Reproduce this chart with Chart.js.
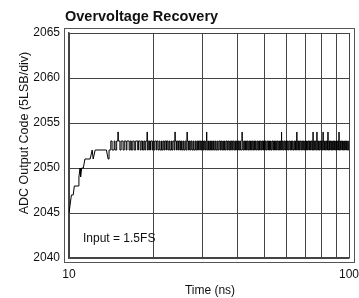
<!DOCTYPE html>
<html>
<head>
<meta charset="utf-8">
<script src="https://cdn.jsdelivr.net/npm/chart.js@4"></script>
<style>
  html, body { margin: 0; padding: 0; background: #fff; }
  #wrap { width: 359px; height: 298px; }
</style>
</head>
<body>
<div id="wrap"><canvas id="recovery" width="359" height="298"></canvas></div>
<script>
'use strict'

// recovery ramp after the overdrive: time (ns) and ADC code
const riseTimes = [
  10.0, 10.1, 10.2, 10.35, 10.45, 10.8, 10.85, 10.95, 11.0, 11.1,
  11.25, 11.4, 11.6, 11.9, 12.1, 12.2, 12.4, 13.0, 13.6, 13.8
];
const riseCodes = [
  2045, 2046, 2047, 2047, 2048, 2048, 2049, 2050, 2049, 2050,
  2050, 2051, 2051, 2051, 2052, 2051, 2052, 2052, 2052, 2051
];

// settled code toggling between 2052 and 2053: change points (ns) and the code from there on
const settledTimes = [
  13.8, 13.9, 14.1, 14.25, 14.5, 14.6, 14.8, 14.95, 15.0, 15.2,
  15.35, 15.6, 15.75, 16.0, 16.1, 16.4, 16.55, 16.7, 16.9, 17.1,
  17.3, 17.6, 17.7, 17.95, 18.1, 18.3, 18.5, 18.65, 18.8, 19.0,
  19.05, 19.2, 19.4, 19.55, 19.8, 19.9, 20.1, 20.25, 20.5, 20.6,
  20.8, 21.0, 21.15, 21.4, 21.5, 21.7, 21.9, 22.05, 22.3, 22.4,
  22.6, 22.8, 22.95, 23.2, 23.3, 23.5, 23.75, 23.9, 23.95, 24.2,
  24.35, 24.6, 24.75, 25.0, 25.2, 25.35, 25.6, 25.75, 26.0, 26.2,
  26.4, 26.45, 26.7, 26.9, 27.1, 27.3, 27.5, 27.75, 27.9, 28.2,
  28.35, 28.6, 28.8, 29.0, 29.3, 29.45, 29.7, 29.9, 30.2, 30.4,
  30.6, 30.8, 31.0, 31.05, 31.3, 31.5, 31.8, 32.0, 32.3, 32.5,
  32.8, 33.0, 33.3, 33.5, 33.8, 34.0, 34.3, 34.6, 34.8, 35.1,
  35.4, 35.6, 35.9, 36.1, 36.4, 36.7, 36.9, 37.2, 37.5, 37.7,
  38.0, 38.3, 38.5, 38.8, 39.1, 39.3, 39.6, 39.9, 40.2, 40.4,
  40.7, 41.0, 41.5, 41.55, 41.8, 42.1, 42.4, 42.7, 43.0, 43.3,
  43.6, 43.9, 44.2, 44.5, 44.8, 45.1, 45.4, 45.7, 46.0, 46.3,
  46.6, 47.0, 47.3, 47.6, 47.9, 48.2, 48.6, 48.9, 49.2, 49.5,
  49.9, 50.2, 50.5, 50.9, 51.3, 51.6, 52.0, 52.4, 52.7, 53.1,
  53.5, 53.8, 54.2, 54.6, 55.0, 55.3, 55.7, 56.1, 56.5, 56.9,
  57.4, 57.45, 57.8, 58.2, 58.6, 59.0, 59.4, 59.8, 60.2, 60.6,
  61.0, 61.5, 61.9, 62.3, 62.7, 63.1, 63.6, 64.0, 64.4, 64.8,
  65.1, 65.15, 65.6, 66.0, 66.5, 66.9, 67.4, 67.8, 68.3, 68.7,
  69.2, 69.6, 70.1, 70.5, 71.0, 71.4, 71.9, 72.3, 72.8, 73.2,
  73.7, 74.2, 74.4, 74.45, 74.9, 75.4, 75.8, 76.3, 76.8, 76.85,
  77.3, 77.8, 78.3, 78.8, 79.3, 79.8, 80.3, 80.8, 80.85, 81.3,
  81.8, 82.3, 82.8, 83.3, 83.8, 84.1, 84.15, 84.7, 85.2, 85.7,
  86.2, 86.7, 87.2, 87.7, 88.2, 88.7, 89.2, 89.7, 90.2, 90.7,
  91.2, 91.7, 92.1, 92.15, 92.7, 93.2, 93.7, 94.3, 94.8, 95.3,
  95.8, 96.3, 96.9, 97.4, 97.9, 98.4, 99.0, 99.5, 100.0
];
const settledCodes = [
  2051, 2052, 2053, 2052, 2053, 2052, 2053, 2054, 2053, 2052,
  2053, 2052, 2053, 2052, 2053, 2052, 2053, 2052, 2053, 2052,
  2053, 2052, 2053, 2052, 2053, 2052, 2053, 2052, 2053, 2054,
  2052, 2053, 2052, 2053, 2052, 2053, 2052, 2053, 2052, 2053,
  2052, 2053, 2052, 2053, 2052, 2053, 2052, 2053, 2052, 2053,
  2052, 2053, 2052, 2053, 2052, 2053, 2052, 2054, 2053, 2052,
  2053, 2052, 2053, 2052, 2053, 2052, 2053, 2052, 2053, 2052,
  2054, 2053, 2052, 2053, 2052, 2053, 2052, 2053, 2052, 2053,
  2052, 2053, 2052, 2053, 2052, 2053, 2052, 2053, 2052, 2053,
  2052, 2053, 2054, 2052, 2053, 2052, 2053, 2052, 2053, 2052,
  2053, 2052, 2053, 2052, 2053, 2052, 2053, 2052, 2053, 2052,
  2053, 2052, 2053, 2052, 2053, 2052, 2053, 2052, 2053, 2052,
  2053, 2052, 2053, 2052, 2053, 2052, 2053, 2052, 2053, 2052,
  2053, 2052, 2054, 2053, 2052, 2053, 2052, 2053, 2052, 2053,
  2052, 2053, 2052, 2053, 2052, 2053, 2052, 2053, 2052, 2053,
  2052, 2053, 2052, 2053, 2052, 2053, 2052, 2053, 2052, 2053,
  2052, 2053, 2052, 2053, 2052, 2053, 2052, 2053, 2052, 2053,
  2052, 2053, 2052, 2053, 2052, 2053, 2052, 2053, 2052, 2053,
  2054, 2052, 2053, 2052, 2053, 2052, 2053, 2052, 2053, 2052,
  2053, 2052, 2053, 2052, 2053, 2052, 2053, 2052, 2053, 2052,
  2054, 2053, 2052, 2053, 2052, 2053, 2052, 2053, 2052, 2053,
  2052, 2053, 2052, 2053, 2052, 2053, 2052, 2053, 2052, 2053,
  2052, 2053, 2054, 2052, 2053, 2052, 2053, 2052, 2054, 2053,
  2052, 2053, 2052, 2053, 2052, 2053, 2052, 2054, 2053, 2052,
  2053, 2052, 2053, 2052, 2053, 2054, 2052, 2053, 2052, 2053,
  2052, 2053, 2052, 2053, 2052, 2053, 2052, 2053, 2052, 2053,
  2052, 2053, 2054, 2052, 2053, 2052, 2053, 2052, 2053, 2052,
  2053, 2052, 2053, 2052, 2053, 2052, 2053, 2052, 2052
];

// log grid positions and the ones that get a label
const xGrid = [10, 20, 30, 40, 50, 60, 70, 80, 90, 100];
const xLabeled = [10, 100];

const chartTitle = 'Overvoltage Recovery';
const xTitle = 'Time (ns)';
const yTitle = 'ADC Output Code (5LSB/div)';
const note = 'Input = 1.5FS';

const FONT = "'Liberation Sans', Arial, sans-serif";

const textPlugin = {
  id: 'texts',
  beforeDraw(chart) {
    // outer frame around the plot
    const a = chart.chartArea;
    const c = chart.ctx;
    c.save();
    c.strokeStyle = '#555';
    c.lineWidth = 1;
    c.strokeRect(a.left - 4.5, a.top - 4.5, a.right - a.left + 10, a.bottom - a.top + 9);
    c.fillStyle = '#fff';
    c.fillRect(a.left, a.top, a.right - a.left, a.bottom - a.top);
    c.restore();
  },
  afterDraw(chart) {
    const c = chart.ctx;
    c.save();
    c.fillStyle = '#111';
    c.font = 'bold 14.5px ' + FONT;
    c.textAlign = 'left';
    c.textBaseline = 'alphabetic';
    c.fillText(chartTitle, 65, 21);

    c.font = '12px ' + FONT;
    c.fillText(note, 83, 242);

    c.textAlign = 'center';
    c.fillText(xTitle, 210, 294);

    c.translate(28, 133);
    c.rotate(-Math.PI / 2);
    c.font = '12.5px ' + FONT;
    c.fillText(yTitle, 0, 0);
    c.restore();
  }
};

const lineStyle = {
  borderColor: '#000',
  borderWidth: 1,
  pointRadius: 0,
  fill: false,
};

const ctx = document.getElementById('recovery').getContext('2d');
const recoveryChart = new Chart(ctx, {
  type: 'line',
  data: {
    datasets: [
      Object.assign({
        data: riseTimes.map((t, i) => ({ x: t, y: riseCodes[i] })),
        tension: 0,
      }, lineStyle),
      Object.assign({
        data: settledTimes.map((t, i) => ({ x: t, y: settledCodes[i] })),
        stepped: true,
      }, lineStyle),
    ]
  },
  options: {
    responsive: false,
    animation: false,
    layout: { padding: { left: 0, top: 33, right: 10, bottom: 0 } },
    scales: {
      x: {
        type: 'logarithmic',
        min: 10,
        max: 100,
        afterBuildTicks: (scale) => { scale.ticks = xGrid.map(v => ({ value: v })); },
        afterFit: (scale) => {
          scale.height = 40;
          scale.paddingLeft = 0;
          scale.paddingRight = 0;
        },
        grid: { color: '#444', lineWidth: 1, drawTicks: false },
        border: { color: '#444', width: 1.5 },
        ticks: {
          autoSkip: false,
          maxRotation: 0,
          minRotation: 0,
          padding: 9,
          color: '#111',
          font: { family: FONT, size: 12 },
          callback: function(value) {
            return xLabeled.includes(value) ? String(value) : '';
          }
        }
      },
      y: {
        min: 2040,
        max: 2065,
        afterFit: (scale) => { scale.width = 69; },
        grid: { color: '#444', lineWidth: 1, drawTicks: false },
        border: { color: '#444', width: 1.5 },
        ticks: {
          stepSize: 5,
          padding: 9,
          color: '#111',
          font: { family: FONT, size: 12 },
          callback: (value) => String(value),
        }
      }
    },
    plugins: {
      legend: { display: false },
      tooltip: { enabled: false },
    }
  },
  plugins: [textPlugin]
});
</script>
</body>
</html>
